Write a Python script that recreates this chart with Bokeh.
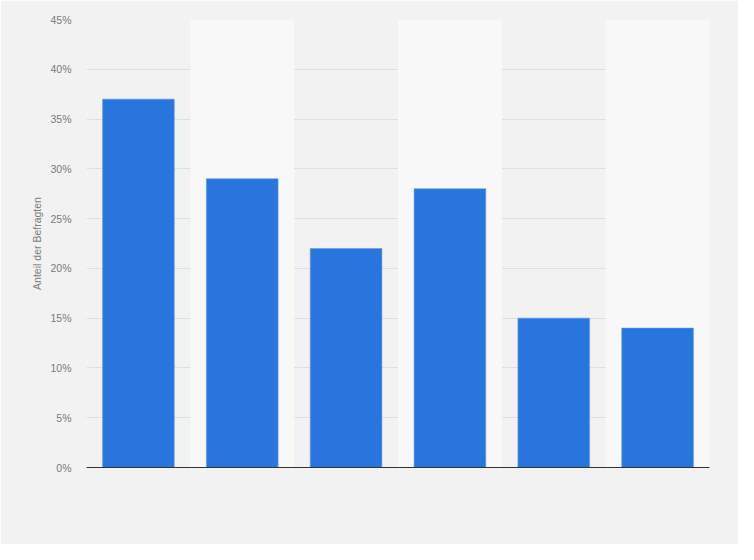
from bokeh.plotting import figure
from bokeh.models import Range1d, FixedTicker, CustomJSTickFormatter
from bokeh.embed import file_html
from bokeh.resources import INLINE

categories = ["Kategorie 1", "Kategorie 2", "Kategorie 3", "Kategorie 4", "Kategorie 5", "Kategorie 6"]
values = [37, 29, 22, 28, 15, 14]
y_ticks = [0, 5, 10, 15, 20, 25, 30, 35, 40, 45]
y_label = "Anteil der Befragten"

n = len(categories)
xs = [i + 0.5 for i in range(n)]

p = figure(width=738, height=544, output_backend="svg", toolbar_location=None,
           x_range=Range1d(0, n), y_range=Range1d(0, 45),
           frame_width=623, frame_height=448,
           min_border_left=86, min_border_right=29, min_border_top=19, min_border_bottom=77)

p.background_fill_color = "#f2f2f2"
p.border_fill_color = "#f2f2f2"
p.outline_line_color = None

# alternating lighter bands
band_left = [i for i in range(n) if i % 2 == 1]
p.quad(left=band_left, right=[l + 1 for l in band_left], bottom=0, top=45,
       fill_color="#f8f8f8", line_color=None)

p.xgrid.visible = False
p.ygrid.ticker = FixedTicker(ticks=y_ticks)
p.ygrid.grid_line_color = "#cccccc"
p.ygrid.grid_line_dash = "1 1"
p.ygrid.grid_line_width = 1
p.ygrid.level = "underlay"

p.vbar(x=xs, top=values, width=0.69, fill_color="#2876dd", line_color="#5d97e6", line_width=0.6)

# y axis
p.yaxis.ticker = FixedTicker(ticks=y_ticks)
p.yaxis.formatter = CustomJSTickFormatter(code="return tick + '%';")
p.yaxis.axis_line_color = None
p.yaxis.major_tick_line_color = None
p.yaxis.major_tick_out = 0
p.yaxis.major_tick_in = 0
p.yaxis.minor_tick_line_color = None
p.yaxis.major_label_text_font = "Liberation Sans"
p.yaxis.major_label_text_font_size = "10.5px"
p.yaxis.major_label_text_color = "#7a7a7a"
p.yaxis.major_label_standoff = 15
p.yaxis.axis_label = y_label
p.yaxis.axis_label_text_font = "Liberation Sans"
p.yaxis.axis_label_text_font_size = "10.5px"
p.yaxis.axis_label_text_font_style = "normal"
p.yaxis.axis_label_text_color = "#7a7a7a"
p.yaxis.axis_label_standoff = 4

# x axis: only baseline
p.xaxis.ticker = FixedTicker(ticks=[])
p.xaxis.axis_line_color = "#333333"
p.xaxis.axis_line_width = 1.2
p.xaxis.major_tick_line_color = None
p.xaxis.major_tick_out = 0
p.xaxis.minor_tick_line_color = None

open("out.html", "w").write(file_html(p, INLINE))
